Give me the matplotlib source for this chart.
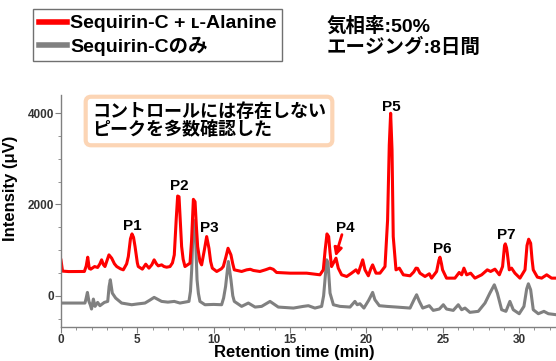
import matplotlib
matplotlib.use("Agg")
import matplotlib.pyplot as plt
from matplotlib.ticker import MultipleLocator
from matplotlib.lines import Line2D

plt.rcParams['font.family'] = ['Liberation Sans', 'Noto Sans CJK JP', 'DejaVu Sans']
plt.rcParams['font.weight'] = 'bold'

# Retention time (min) / intensity (uV)
red_t = [0.0, 0.1, 0.5, 1.0, 1.53, 1.65, 1.75, 1.85, 1.95, 2.2, 2.4, 2.55, 2.66, 2.78, 2.88,
         3.0, 3.14, 3.32, 3.5, 3.65, 3.9, 4.08, 4.3, 4.41, 4.55, 4.65, 4.75, 4.85, 5.0, 5.06,
         5.33, 5.55, 5.76, 5.95, 6.1, 6.25, 6.37, 6.59, 6.75, 6.92, 7.14, 7.3, 7.42, 7.55, 7.64,
         7.73, 7.82, 7.9, 8.0, 8.12, 8.3, 8.45, 8.55, 8.67, 8.78, 8.87, 8.95, 9.1, 9.21, 9.39,
         9.54, 9.69, 9.8, 9.91, 10.2, 10.5, 10.63, 10.8, 10.94, 11.13, 11.25, 11.35, 11.83, 12.16,
         12.4, 12.6, 13.03, 13.4, 13.69, 13.9, 14.12, 15.0, 16.09, 16.96, 17.18, 17.3, 17.42,
         17.53, 17.62, 17.72, 17.85, 18.01, 18.16, 18.38, 18.71, 19.03, 19.32, 19.47, 19.62,
         19.76, 19.91, 20.13, 20.3, 20.41, 20.63, 20.89, 21.22, 21.39, 21.5, 21.59, 21.68, 21.76,
         21.94, 22.16, 22.42, 22.86, 23.1, 23.25, 23.35, 23.51, 23.84, 24.12, 24.27, 24.6, 24.75,
         24.82, 24.92, 24.99, 25.25, 25.8, 26.08, 26.24, 26.39, 26.57, 26.83, 27.11, 27.55,
         27.92, 28.14, 28.42, 28.71, 28.92, 29.05, 29.1, 29.18, 29.23, 29.36, 29.51, 29.73,
         30.06, 30.39, 30.52, 30.63, 30.76, 30.85, 30.93, 31.2, 31.48, 31.81, 32.13, 32.42]
red_v = [780, 540, 530, 530, 532, 650, 845, 600, 583, 640, 620, 700, 787, 680, 640,
         760, 896, 823, 700, 640, 590, 568, 700, 860, 1250, 1355, 1280, 1078, 720, 640,
         583, 692, 605, 680, 787, 700, 655, 677, 640, 626, 640, 720, 896, 1700, 2186,
         2170, 1600, 1078, 800, 640, 680, 714, 1200, 2113, 2060, 1500, 1078, 750, 677, 1005,
         1297, 1041, 750, 605, 532, 590, 640, 850, 1041, 896, 700, 568, 532, 568,
         580, 554, 532, 570, 605, 580, 510, 495, 495, 459, 568, 1000, 1355,
         1297, 950, 640, 720, 823, 605, 459, 422, 495, 568, 495, 650,
         787, 568, 437, 600, 677, 495, 495, 640, 1661, 3300, 4000, 3200, 1297,
         568, 605, 459, 437, 520, 605, 600, 495, 422, 481, 386, 532, 780,
         845, 700, 568, 386, 386, 510, 459, 605, 459, 495, 386, 459,
         568, 532, 583, 459, 640, 1100, 1137, 1050, 932, 568, 605, 495,
         386, 568, 1100, 1239, 1151, 800, 568, 408, 386, 459, 386, 386]

gray_t = [0.0, 1.0, 1.57, 1.65, 1.73, 1.83, 1.92, 2.0, 2.12, 2.23, 2.4, 2.55, 2.7, 2.84, 3.06,
          3.15, 3.23, 3.36, 3.58, 3.97, 4.63, 5.0, 5.5, 5.8, 6.1, 6.59, 7.0, 7.42, 7.79, 8.38,
          8.48, 8.56, 8.67, 8.78, 8.91, 9.0, 9.1, 9.43, 10.0, 10.52, 10.65, 10.78, 10.96, 11.13,
          11.25, 11.35, 11.83, 12.27, 12.71, 13.14, 13.69, 14.23, 15.22, 15.87, 16.2, 16.63,
          17.07, 17.2, 17.29, 17.4, 17.49, 17.62, 17.84, 18.27, 18.93, 19.25, 19.4, 19.58, 19.84,
          20.15, 20.28, 20.41, 20.56, 20.85, 21.33, 21.98, 22.86, 23.12, 23.29, 23.47, 23.69,
          24.12, 24.38, 24.78, 25.04, 25.25, 25.69, 26.02, 26.24, 26.46, 26.78, 27.33, 27.77,
          28.09, 28.38, 28.58, 28.86, 29.14, 29.4, 29.62, 30.01, 30.32, 30.5, 30.61, 30.76,
          30.93, 31.26, 31.63, 31.92, 32.42]
gray_v = [-160, -160, -160, -50, 73, -124, -200, -291, -73, -233, -146, -218, -180, -146, -124,
          200, 350, 58, -51, -160, -197, -180, -160, -100, -36, -124, -140, -124, -160, -124,
          100, 568, 1661, 1588, 350, 50, -124, -197, -190, -197, -50, 204, 750, 350,
          0, -124, -233, -160, -248, -233, -124, -248, -270, -233, -218, -270,
          -233, 0, 350, 787, 714, 58, -197, -233, -248, -124, -197, -175, -270,
          -100, -15, 73, -88, -218, -233, -248, -270, -88, 22, -124, -270,
          -218, -321, -291, -197, -291, -321, -197, -306, -270, -364, -342, -160,
          58, 240, 58, -306, -342, -124, -306, -394, -233, 150, 262, 131,
          -306, -394, -342, -394, -415]

peak_names = ['P1', 'P2', 'P3', 'P4', 'P5', 'P6', 'P7']
peak_label_t = [4.67, 7.75, 9.69, 18.6, 21.65, 25.0, 29.19]
peak_label_v = [1530, 2405, 1480, 1494, 4142, 1027, 1333]

series_names = ['Sequirin-C + ʟ-Alanine', 'Sequirin-Cのみ']
conditions = '気相率:50%\nエージング:8日間'
note = 'コントロールには存在しない\nピークを多数確認した'


def main():
    fig = plt.figure(figsize=(5.56, 3.61), dpi=100)
    ax = fig.add_axes([61 / 556, 1 - 327 / 361, 495 / 556, 232 / 361])

    ax.plot(gray_t, gray_v, color='#808080', lw=2.2, solid_joinstyle='round')
    ax.plot(red_t, red_v, color='#ff0000', lw=2.2, solid_joinstyle='round')

    ax.set_xlim(0, 32.42)
    ax.set_ylim(-685, 4400)
    ax.xaxis.set_major_locator(MultipleLocator(5))
    ax.xaxis.set_minor_locator(MultipleLocator(1))
    ax.yaxis.set_major_locator(MultipleLocator(2000))
    ax.yaxis.set_minor_locator(MultipleLocator(500))
    for s in ['top', 'right']:
        ax.spines[s].set_visible(False)
    for s in ['left', 'bottom']:
        ax.spines[s].set_color('#808080')
        ax.spines[s].set_linewidth(1.0)
    ax.tick_params(which='major', length=4, color='#808080', labelsize=8.5,
                   labelcolor='#333333', pad=1)
    ax.tick_params(which='minor', length=2.5, color='#808080')

    ax.set_xlabel('Retention time (min)', fontsize=12, fontweight='bold', labelpad=0)
    ax.xaxis.set_label_coords((294 - 61) / 495, -(345 - 327) / 232)
    ax.set_ylabel('Intensity (μV)', fontsize=12, fontweight='bold')
    ax.yaxis.set_label_coords(-(61 - 18) / 495, (327 - 188) / 232)

    for name, t, v in zip(peak_names, peak_label_t, peak_label_v):
        ax.text(t, v, name, fontsize=11, fontweight='bold', ha='center', va='center')

    # arrow pointing at P4
    ax.annotate('', xy=(17.97, 860), xytext=(18.4, 1340),
                arrowprops=dict(arrowstyle='-|>', color='#ff0000', lw=2, mutation_scale=12,
                                shrinkA=0, shrinkB=0))

    handles = [Line2D([], [], color='#ff0000', lw=4), Line2D([], [], color='#808080', lw=4)]
    fig.legend(handles, series_names, loc='upper left',
               bbox_to_anchor=(33 / 556, 1 - 9 / 361), frameon=True, fancybox=False,
               edgecolor='#707070', framealpha=1, handlelength=1.45, handletextpad=0.15,
               borderpad=0.3, borderaxespad=0, labelspacing=0.2,
               prop=dict(size=14, weight='bold'))

    fig.text(327 / 556, 1 - 37 / 361, conditions, fontsize=14, fontweight='bold',
             ha='left', va='center', linespacing=1.15)

    fig.text(92 / 556, 1 - 121 / 361, note, fontsize=13, fontweight='bold',
             ha='left', va='center', linespacing=1.0,
             bbox=dict(boxstyle='round,pad=0.35,rounding_size=0.3', fc='white',
                       ec='#fcd5b5', lw=3))

    fig.savefig('out.png', dpi=100)


if __name__ == "__main__":
    main()
